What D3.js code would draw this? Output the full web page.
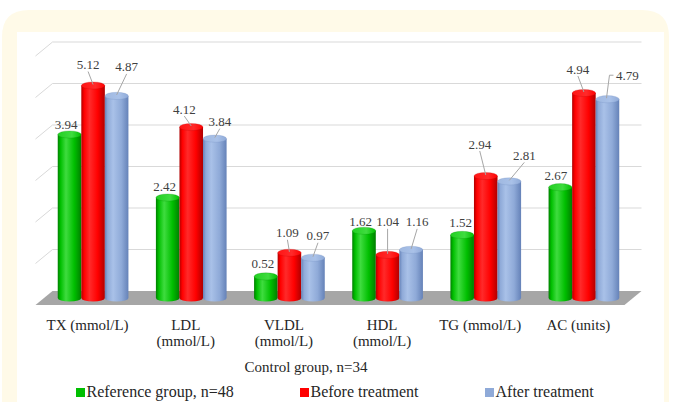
<!DOCTYPE html>
<html>
<head>
<meta charset="utf-8">
<script src="https://cdn.jsdelivr.net/npm/d3@7"></script>
<style>
  html, body { margin: 0; padding: 0; background: #ffffff; }
  svg { display: block; }
</style>
</head>
<body>
<svg id="chart" width="676" height="402" font-family="'Liberation Serif', 'Times New Roman', 'DejaVu Serif', serif"></svg>
<script>
// Lipid profile indicators, three groups
const categories = [
  ["TX (mmol/L)"],
  ["LDL", "(mmol/L)"],
  ["VLDL", "(mmol/L)"],
  ["HDL", "(mmol/L)"],
  ["TG (mmol/L)"],
  ["AC (units)"]
];
const seriesNames = ["Reference group, n=48", "Before treatment", "After treatment"];
const referenceValues = [3.94, 2.42, 0.52, 1.62, 1.52, 2.67];
const beforeValues    = [5.12, 4.12, 1.09, 1.04, 2.94, 4.94];
const afterValues     = [4.87, 3.84, 0.97, 1.16, 2.81, 4.79];
const yTicks = [0, 1, 2, 3, 4, 5, 6];
const axisTitle = "Control group, n=34";

// Label placement (pixel offsets from each column top) and leader-line flags
const labelOffsets = [
  [[-3.5, -10], [-3, -11], [-3, -13], [-3.5, -9], [-1.5, -12], [-4.5, -12]],
  [[-5, -21], [-7, -18], [-2, -20], [0, -33], [-6, -32], [-6, -24]],
  [[10, -29], [5, -17], [5, -22], [6, -28], [15, -26], [20, -24]]
];
const leaderLines = [false, true, true];

const series = [referenceValues, beforeValues, afterValues];
const palette = [
  { base: "#00bf00", light: "#3fdc3f", dark: "#007f00", top: "#22d022" },
  { base: "#ff0000", light: "#ff2a2a", dark: "#b00000", top: "#ff1414" },
  { base: "#8faad8", light: "#a9c1e8", dark: "#6582b8", top: "#9fb8e0" }
];

const svg = d3.select("#chart");
const defs = svg.append("defs");

// Card background
svg.append("path")
  .attr("d", "M2,402 L2,37 Q2,10 29,10 L642,10 Q669,10 669,37 L669,402 Z")
  .attr("fill", "#fffae8");
svg.append("rect")
  .attr("x", 17).attr("y", 32).attr("width", 647).attr("height", 370)
  .attr("fill", "#ffffff");

// Oblique projection: depth offsets for back wall and column plane
const depth = { dx: 17, dy: -14 };
const mid = { dx: depth.dx / 2, dy: depth.dy / 2 };

const x = d3.scaleBand()
  .domain(d3.range(categories.length))
  .range([35.5, 624.5])
  .paddingInner(0.28)
  .paddingOuter(0.14);
const xs = d3.scaleBand()
  .domain(d3.range(series.length))
  .range([0, x.bandwidth()]);
const y = d3.scaleLinear()
  .domain([0, 6])
  .range([305, 305 - 6 * 41.5]);

const x0 = x.range()[0], x1 = x.range()[1];

// Floor
svg.append("path")
  .attr("d", `M${x0},${y(0)} L${x1},${y(0)} L${x1 + depth.dx},${y(0) + depth.dy} L${x0 + depth.dx},${y(0) + depth.dy} Z`)
  .attr("fill", "#a6a6a6");

// Gridlines on side and back wall
const grid = svg.append("g").attr("fill", "none").attr("stroke", "#d9d9d9").attr("stroke-width", 1);
yTicks.filter(t => t > 0).forEach(t => {
  const yy = y(t);
  grid.append("path")
    .attr("d", `M${x0},${yy} L${x0 + depth.dx},${yy + depth.dy} L${x1 + depth.dx},${yy + depth.dy}`);
});

// Gradients for cylinders
palette.forEach((c, i) => {
  const g = defs.append("linearGradient").attr("id", "body" + i)
    .attr("x1", "0%").attr("x2", "100%").attr("y1", "0%").attr("y2", "0%");
  g.append("stop").attr("offset", "0%").attr("stop-color", c.dark);
  g.append("stop").attr("offset", "12%").attr("stop-color", c.base);
  g.append("stop").attr("offset", "35%").attr("stop-color", c.light);
  g.append("stop").attr("offset", "70%").attr("stop-color", c.base);
  g.append("stop").attr("offset", "100%").attr("stop-color", c.dark);
  const t = defs.append("linearGradient").attr("id", "top" + i)
    .attr("x1", "0%").attr("x2", "100%").attr("y1", "0%").attr("y2", "0%");
  t.append("stop").attr("offset", "0%").attr("stop-color", c.top);
  t.append("stop").attr("offset", "60%").attr("stop-color", c.light);
  t.append("stop").attr("offset", "100%").attr("stop-color", c.base);
});

// Columns (cylinders)
const ry = 3.6;
const bars = svg.append("g");
categories.forEach((cat, ci) => {
  series.forEach((vals, si) => {
    const left = x(ci) + xs(si) + mid.dx;
    const w = xs.bandwidth();
    const rx = w / 2;
    const cx = left + rx;
    const yTop = y(vals[ci]) + mid.dy;
    const yBase = y(0) + mid.dy;
    bars.append("path")
      .attr("d", `M${left},${yTop} L${left},${yBase} A${rx},${ry} 0 0 0 ${left + w},${yBase} L${left + w},${yTop} Z`)
      .attr("fill", `url(#body${si})`);
    bars.append("ellipse")
      .attr("cx", cx).attr("cy", yTop).attr("rx", rx).attr("ry", ry)
      .attr("fill", `url(#top${si})`)
      .attr("stroke", palette[si].dark).attr("stroke-opacity", 0.35).attr("stroke-width", 0.6);
  });
});

// Data labels with leader lines
const labels = svg.append("g");
categories.forEach((cat, ci) => {
  series.forEach((vals, si) => {
    const w = xs.bandwidth();
    const cx = x(ci) + xs(si) + mid.dx + w / 2;
    const yTop = y(vals[ci]) + mid.dy;
    const [dx, dy] = labelOffsets[si][ci];
    const lx = cx + dx, ly = yTop + dy;
    if (leaderLines[si]) {
      let d;
      if (dx > 18) {
        d = `M${lx - 14},${ly} L${lx - 18},${ly} L${cx - 1},${yTop - 1}`;
      } else {
        d = `M${lx},${ly + 7} L${cx},${yTop - 1}`;
      }
      labels.append("path").attr("d", d)
        .attr("fill", "none").attr("stroke", "#a6a6a6").attr("stroke-width", 1);
    }
    labels.append("text")
      .attr("x", lx).attr("y", ly)
      .attr("dy", "0.35em")
      .attr("text-anchor", "middle")
      .attr("font-size", 13)
      .attr("fill", "#404040")
      .text(d3.format(".2f")(vals[ci]));
  });
});

// Category axis labels
const catG = svg.append("g");
categories.forEach((lines, ci) => {
  const t = catG.append("text")
    .attr("x", x(ci) + x.bandwidth() / 2 + 3)
    .attr("y", 330)
    .attr("text-anchor", "middle")
    .attr("font-size", 15)
    .attr("fill", "#262626");
  lines.forEach((ln, li) => {
    t.append("tspan")
      .attr("x", x(ci) + x.bandwidth() / 2 + 3)
      .attr("dy", li === 0 ? 0 : 16)
      .text(ln);
  });
});

// Axis title
svg.append("text")
  .attr("x", 306).attr("y", 372)
  .attr("text-anchor", "middle")
  .attr("font-size", 15)
  .attr("fill", "#262626")
  .text(axisTitle);

// Legend
const legendX = [76, 300, 485];
const legend = svg.append("g");
seriesNames.forEach((name, i) => {
  legend.append("rect")
    .attr("x", legendX[i]).attr("y", 388).attr("width", 9).attr("height", 9)
    .attr("fill", palette[i].base);
  legend.append("text")
    .attr("x", legendX[i] + 10.5).attr("y", 397)
    .attr("font-size", 16)
    .attr("fill", "#262626")
    .text(name);
});
</script>
</body>
</html>
